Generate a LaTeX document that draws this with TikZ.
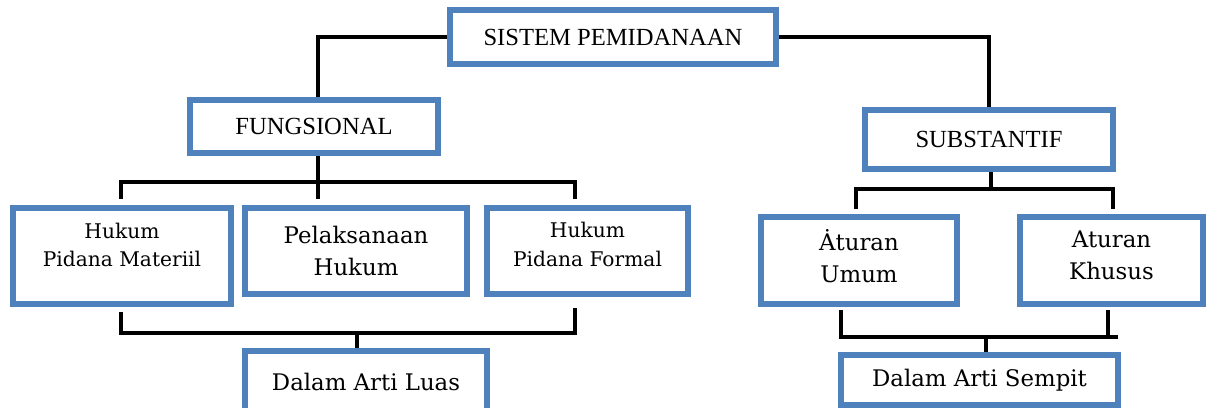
\documentclass[tikz,border=0pt]{standalone}
\usepackage{fontspec}
\setmainfont{Liberation Serif}
\newfontfamily\bookfont{DejaVu Serif}
\usetikzlibrary{positioning,calc,backgrounds}
\definecolor{boxblue}{RGB}{79,129,189}

\begin{document}
\begin{tikzpicture}[
    x=0.02cm, y=-0.02cm,
    block/.style={rectangle, draw=boxblue, line width=0.125cm, fill=white, align=center, inner sep=0pt, font=\fontsize{14}{16}\selectfont},
    leaf/.style={block, font=\bookfont\fontsize{11.5}{16.4}\selectfont},
    wide/.style={block, font=\bookfont\fontsize{13}{18.2}\selectfont},
    link/.style={line width=0.075cm, black}
]
\useasboundingbox (0,0) rectangle (1206,408);

% ===== ROOT =====
\node[block, minimum width=6.52cm, minimum height=1.08cm] (sistem) at (613,37) {SISTEM PEMIDANAAN};

% ===== FIRST LEVEL =====
\node[block, minimum width=4.96cm, minimum height=1.06cm] (fung) at (314,126.5) {FUNGSIONAL};
\node[block, minimum width=4.96cm, minimum height=1.18cm] (subst) at (989,139.5) {SUBSTANTIF};

% ===== FUNGSIONAL BRANCH =====
\node[leaf, minimum width=4.36cm, minimum height=1.92cm, text depth=0.45cm] (materiil) at (122,256) {Hukum\\Pidana Materiil};
\node[wide, minimum width=4.44cm, minimum height=1.72cm] (pelaks) at (356,251) {Pelaksanaan\\Hukum};
\node[leaf, minimum width=4.02cm, minimum height=1.72cm, text depth=0.27cm] (formal) at (587.5,251) {Hukum\\Pidana Formal};
\node[wide, minimum width=4.84cm, minimum height=1.24cm] (luas) at (366,382) {Dalam Arti Luas};

% ===== SUBSTANTIF BRANCH =====
\node[wide, minimum width=3.92cm, minimum height=1.74cm, text depth=0.2cm] (umum) at (859,260.5) {\.Aturan\\Umum};
\node[wide, minimum width=3.66cm, minimum height=1.74cm, text depth=0.2cm] (khusus) at (1111.5,260.5) {Aturan\\Khusus};
\node[wide, minimum width=5.54cm, minimum height=1.0cm] (sempit) at (979.5,380) {Dalam Arti Sempit};

% ===== CONNECTORS =====
\coordinate (fbar) at (318,182);
\coordinate (fmid) at (318,199);
\coordinate (fleft) at (121,199);
\coordinate (fright) at (575,199);
\coordinate (lleft) at (121,312);
\coordinate (lright) at (575,308);
\coordinate (lbar) at (357,333);
\coordinate (sbar) at (991,189);
\coordinate (sleft) at (856,209);
\coordinate (sright) at (1113,209);
\coordinate (rleft) at (841,310);
\coordinate (rright) at (1108,310);
\coordinate (rbar) at (986,337);
\coordinate (rend) at (1118,337);

\begin{pgfonlayer}{background}
\draw[link] (sistem.west) -| ([xshift=0.08cm]fung.north);
\draw[link] (sistem.east) -| (subst.north);

\draw[link] (fung.south -| fmid) -- (fmid);
\draw[link] (fleft) |- (fbar) -| (fright);
\draw[link] (lleft) |- (lbar) -| (lright);
\draw[link] (lbar) -- (lbar |- luas.north);

\draw[link] (subst.south -| sbar) -- (sbar);
\draw[link] (sleft) |- (sbar) -| (sright);
\draw[link] (rleft) |- (rend);
\draw[link] (rright) -- (rright |- rend);
\draw[link] (rbar) -- (rbar |- sempit.north);
\end{pgfonlayer}

\end{tikzpicture}
\end{document}
